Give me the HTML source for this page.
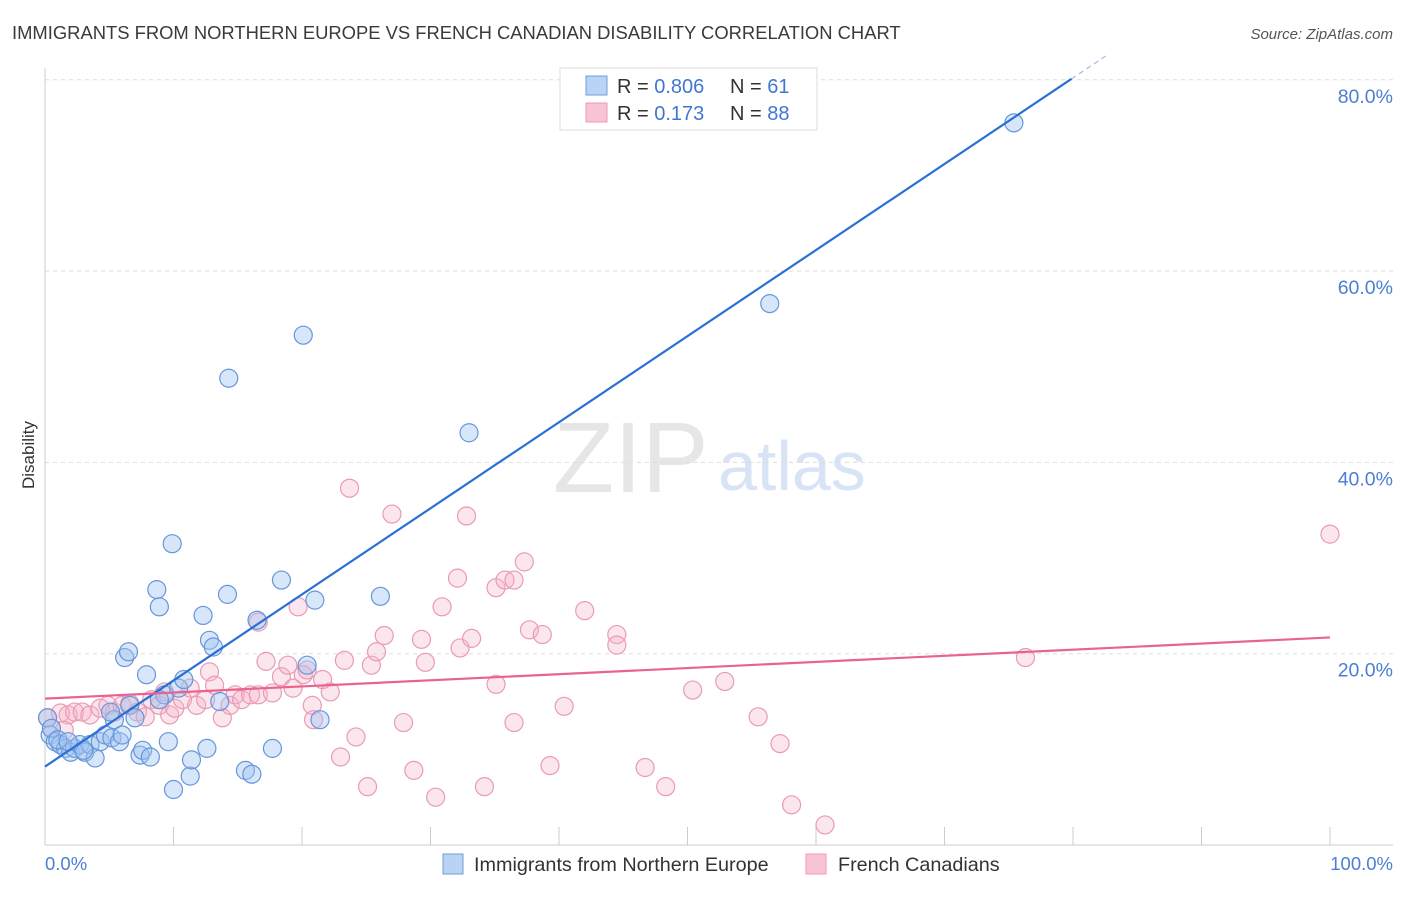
<!DOCTYPE html>
<html><head><meta charset="utf-8"><style>
body{margin:0;background:#fff;font-family:"Liberation Sans",sans-serif}
svg text{font-family:"Liberation Sans",sans-serif}
</style></head><body>
<svg id="chart" width="1406" height="892" viewBox="0 0 1406 892">
<text x="12" y="39" font-size="18.4" fill="#3a3a3a">IMMIGRANTS FROM NORTHERN EUROPE VS FRENCH CANADIAN DISABILITY CORRELATION CHART</text>
<text x="1393" y="39" font-size="15" fill="#555" font-style="italic" text-anchor="end">Source: ZipAtlas.com</text>
<text x="553" y="492" font-size="100" fill="#e6e6e6" font-family="Liberation Serif">ZIP</text>
<text x="718" y="490" font-size="70" fill="#d8e4f5">atlas</text>
<g id="grid"></g>
<line x1="45" y1="68" x2="45" y2="845" stroke="#ccc"/>
<line x1="45" y1="845" x2="1393" y2="845" stroke="#ccc"/>
<g id="xticks"></g>
<g id="pink"></g>
<g id="blue"></g>
<g id="lines"></g>
<text x="34" y="455" font-size="17" fill="#333" text-anchor="middle" transform="rotate(-90 34 455)">Disability</text>
<text x="45" y="870" font-size="18.5" fill="#4a7fd4">0.0%</text>
<text x="1393" y="870" font-size="18.5" fill="#4a7fd4" text-anchor="end">100.0%</text>
<g>
<rect x="560" y="68" width="257" height="62" fill="#fff" stroke="#ddd"/>
<rect x="586" y="76" width="21" height="19" fill="#b9d3f5" stroke="#6f9de0"/>
<rect x="586" y="103" width="21" height="19" fill="#f8c3d3" stroke="#eb9ab4"/>
<text x="617" y="93" font-size="20" fill="#333">R = <tspan fill="#3f77d2">0.806</tspan></text>
<text x="730" y="93" font-size="20" fill="#333">N = <tspan fill="#3f77d2"> 61</tspan></text>
<text x="617" y="120" font-size="20" fill="#333">R = <tspan fill="#3f77d2"> 0.173</tspan></text>
<text x="730" y="120" font-size="20" fill="#333">N = <tspan fill="#3f77d2">88</tspan></text>
</g>
<g>
<rect x="443" y="854" width="20" height="20" fill="#b9d3f5" stroke="#6f9de0"/>
<text x="474" y="871" font-size="19.8" fill="#333">Immigrants from Northern Europe</text>
<rect x="806" y="854" width="20" height="20" fill="#f8c3d3" stroke="#eb9ab4"/>
<text x="838" y="871" font-size="19.8" fill="#333">French Canadians</text>
</g>
</svg>
<script>
const yTicks=[20,40,60,80];
const yTickLabels=["20.0%","40.0%","60.0%","80.0%"];
const xTicks=[0,10,20,30,40,50,60,70,80,90,100];
const blueX=[0.2,0.4,0.8,1.2,1.6,2.0,2.3,2.7,3.1,3.5,3.9,4.3,4.7,5.2,5.4,5.8,6.2,6.5,6.6,7.4,7.6,7.9,8.2,8.7,8.9,9.3,9.6,9.9,10.0,10.4,10.8,11.3,11.4,12.3,12.6,12.8,13.1,13.6,14.2,14.3,15.6,16.1,16.5,17.7,18.4,20.1,20.4,21.0,21.4,26.1,33.0,56.4,75.4,0.5,1.0,1.8,5.1,7.0,8.9,3.0,6.0];
const blueY=[13.3,11.5,10.8,10.5,10.1,9.7,10.1,10.5,9.7,10.5,9.1,10.8,11.5,11.2,13.1,10.8,19.6,20.2,14.6,9.4,9.9,17.8,9.2,26.7,24.9,15.7,10.8,31.5,5.8,16.4,17.3,7.2,8.9,24.0,10.1,21.4,20.7,15.0,26.2,48.8,7.8,7.4,23.5,10.1,27.7,53.3,18.8,25.6,13.1,26.0,43.1,56.6,75.5,12.2,11.0,10.8,13.9,13.3,15.2,9.9,11.5];
const pinkX=[0.2,0.5,1.2,1.8,2.3,2.9,3.5,4.3,4.9,5.4,6.0,6.6,7.2,7.8,8.3,8.9,9.3,9.7,10.1,10.7,11.3,11.8,12.5,12.8,13.2,13.8,14.4,14.8,15.3,16.0,16.6,16.6,17.2,17.7,18.4,18.9,19.3,19.7,20.1,20.4,20.8,20.9,21.6,22.2,23.0,23.3,23.7,24.2,25.1,25.4,25.8,26.4,27.0,27.9,28.7,29.3,29.6,30.4,30.9,32.1,32.3,32.8,33.2,34.2,35.1,35.1,35.8,36.5,36.5,37.3,37.7,38.7,39.3,40.4,42.0,44.5,44.5,46.7,48.3,50.4,52.9,55.5,57.2,58.1,60.7,76.3,100,1.5];
const pinkY=[13.3,12.2,13.8,13.6,13.9,13.9,13.6,14.3,14.6,13.9,14.6,14.8,13.9,13.4,15.2,14.6,16.0,13.6,14.3,15.2,16.4,14.6,15.2,18.1,16.7,13.3,14.6,15.7,15.2,15.7,15.7,23.3,19.2,15.9,17.6,18.8,16.4,24.9,17.8,18.3,14.6,13.1,17.3,16.0,9.2,19.3,37.3,11.3,6.1,18.8,20.2,21.9,34.6,12.8,7.8,21.5,19.1,5.0,24.9,27.9,20.6,34.4,21.6,6.1,16.8,26.9,27.7,27.7,12.8,29.6,22.5,22.0,8.3,14.5,24.5,22.0,20.9,8.1,6.1,16.2,17.1,13.4,10.6,4.2,2.1,19.6,32.5,12.0];
const blueTrend=[8.2,0.9];   // intercept, slope
const pinkTrend=[15.3,0.064];
const NS='http://www.w3.org/2000/svg';
const sx=v=>45+v*12.85;
const sy=v=>845-v*9.565;
function mk(tag,attrs,parent){const e=document.createElementNS(NS,tag);for(const k in attrs)e.setAttribute(k,attrs[k]);document.getElementById(parent).appendChild(e);return e;}
yTicks.forEach((t,i)=>{
  const l=mk('line',{x1:45,x2:1393,y1:sy(t),y2:sy(t),stroke:'#ddd','stroke-dasharray':'4,4'},'grid');
  
  
  const tx=mk('text',{x:1393,y:sy(t)+23,'font-size':19.5,fill:'#4a7fd4','text-anchor':'end'},'grid');
  tx.textContent=yTickLabels[i];
  
  
});
xTicks.forEach(t=>{
  if(t===0)return;
  const l=mk('line',{x1:sx(t),x2:sx(t),y1:827,y2:845,stroke:'#ccc'},'xticks');
  
  
});
pinkX.forEach((x,i)=>{
  const c=mk('circle',{cx:sx(x),cy:sy(pinkY[i]),r:9,fill:'rgba(246,178,199,0.32)',stroke:'#e99bb4','stroke-width':1.2},'pink');
  
  
});
blueX.forEach((x,i)=>{
  const c=mk('circle',{cx:sx(x),cy:sy(blueY[i]),r:9,fill:'rgba(160,196,240,0.42)',stroke:'#6696da','stroke-width':1.2},'blue');
  
  
});
const bEnd=(80.1-blueTrend[0])/blueTrend[1];
const bl=mk('line',{x1:sx(0),y1:sy(blueTrend[0]),x2:sx(bEnd),y2:sy(blueTrend[0]+blueTrend[1]*bEnd),stroke:'#2a6fd6','stroke-width':2.2},'lines');


const bEnd2=(82.5-blueTrend[0])/blueTrend[1];
const bd=mk('line',{x1:sx(bEnd),y1:sy(blueTrend[0]+blueTrend[1]*bEnd),x2:sx(bEnd2),y2:sy(82.5),stroke:'#9fbde8','stroke-width':1.2,'stroke-dasharray':'5,4'},'lines');


const pl=mk('line',{x1:sx(0),y1:sy(pinkTrend[0]),x2:sx(100),y2:sy(pinkTrend[0]+pinkTrend[1]*100),stroke:'#e8648f','stroke-width':2.2},'lines');


</script>
</body></html>
